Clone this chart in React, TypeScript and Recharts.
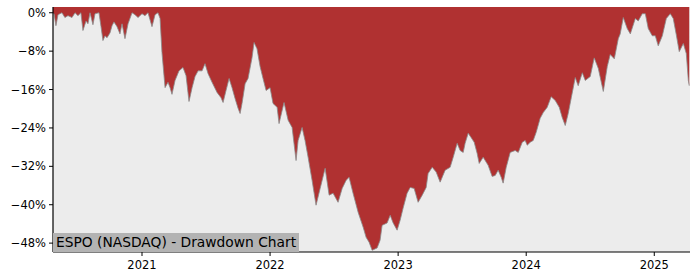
import { AreaChart, Area, XAxis, YAxis, CartesianGrid } from "recharts";

// decimal years
const years = [
  2020.305, 2020.313, 2020.328, 2020.344, 2020.375, 2020.398, 2020.422, 2020.453, 2020.477, 2020.5,
  2020.523, 2020.539, 2020.563, 2020.578, 2020.594, 2020.617, 2020.633, 2020.664, 2020.68, 2020.695,
  2020.711, 2020.727, 2020.75, 2020.766, 2020.781, 2020.805, 2020.828, 2020.844, 2020.867, 2020.891,
  2020.922, 2020.945, 2020.969, 2021.0, 2021.023, 2021.047, 2021.078, 2021.102, 2021.125, 2021.141,
  2021.156, 2021.18, 2021.203, 2021.219, 2021.234, 2021.258, 2021.289, 2021.32, 2021.344, 2021.367,
  2021.391, 2021.414, 2021.438, 2021.469, 2021.492, 2021.516, 2021.547, 2021.586, 2021.617, 2021.633,
  2021.656, 2021.68, 2021.703, 2021.727, 2021.75, 2021.766, 2021.781, 2021.805, 2021.828, 2021.859,
  2021.875, 2021.898, 2021.922, 2021.945, 2021.969, 2022.0, 2022.023, 2022.055, 2022.07, 2022.109,
  2022.141, 2022.172, 2022.203, 2022.219, 2022.25, 2022.273, 2022.297, 2022.328, 2022.359, 2022.391,
  2022.43, 2022.461, 2022.492, 2022.531, 2022.563, 2022.594, 2022.617, 2022.648, 2022.688, 2022.727,
  2022.75, 2022.773, 2022.797, 2022.836, 2022.859, 2022.875, 2022.914, 2022.938, 2022.961, 2022.992,
  2023.016, 2023.039, 2023.07, 2023.094, 2023.125, 2023.156, 2023.188, 2023.219, 2023.234, 2023.266,
  2023.297, 2023.328, 2023.367, 2023.406, 2023.43, 2023.461, 2023.484, 2023.508, 2023.523, 2023.547,
  2023.57, 2023.594, 2023.617, 2023.633, 2023.664, 2023.703, 2023.734, 2023.758, 2023.781, 2023.805,
  2023.82, 2023.844, 2023.875, 2023.914, 2023.938, 2023.969, 2023.992, 2024.008, 2024.031, 2024.055,
  2024.078, 2024.109, 2024.133, 2024.164, 2024.195, 2024.227, 2024.258, 2024.281, 2024.305, 2024.328,
  2024.352, 2024.383, 2024.406, 2024.438, 2024.461, 2024.5, 2024.531, 2024.563, 2024.602, 2024.633,
  2024.656, 2024.688, 2024.719, 2024.734, 2024.758, 2024.789, 2024.813, 2024.852, 2024.875, 2024.906,
  2024.93, 2024.953, 2024.984, 2025.008, 2025.031, 2025.063, 2025.094, 2025.125, 2025.148, 2025.172,
  2025.195, 2025.227, 2025.25, 2025.266, 2025.273,
];

// drawdown in percent
const drawdown = [
  -0.1, -0.2, -2.7, -0.4, 0, -1.0, -0.6, -1.0, 0, -0.6,
  0, -3.7, -1.7, -2.3, 0, -2.5, -0.2, 0, -2.9, -5.8,
  -4.8, -5.2, -4.2, -2.7, -1.9, -2.9, -4.4, -2.3, -5.4, -2.3,
  0, -0.4, -1.0, -0.2, -0.6, 0, -2.9, -0.4, 0, -1.2,
  -8.3, -15.6, -14.5, -15.6, -17.0, -14.1, -12.1, -11.4, -13.1, -18.5,
  -15.6, -13.3, -12.1, -12.1, -10.6, -12.7, -14.5, -16.6, -17.7, -18.7,
  -16.2, -13.7, -15.6, -17.9, -19.9, -21.0, -18.9, -14.8, -13.7, -9.4,
  -6.2, -7.5, -11.2, -13.7, -16.2, -15.6, -18.9, -19.7, -23.1, -18.7,
  -22.4, -23.9, -30.8, -26.6, -23.9, -26.6, -30.1, -34.9, -40.1, -36.6,
  -32.4, -38.0, -37.6, -39.5, -36.6, -34.9, -34.3, -37.6, -41.6, -44.7,
  -46.8, -47.8, -49.5, -49.0, -47.4, -44.3, -43.8, -42.2, -43.8, -45.3,
  -43.2, -40.7, -37.6, -36.4, -36.6, -39.5, -38.0, -36.4, -33.5, -32.2,
  -33.2, -35.3, -32.8, -32.2, -30.1, -27.2, -28.7, -29.1, -27.2, -25.1,
  -26.0, -27.0, -29.3, -31.4, -30.1, -31.8, -34.1, -33.9, -32.8, -34.3,
  -35.5, -32.2, -29.1, -28.7, -29.1, -27.0, -26.6, -27.6, -27.0, -26.6,
  -24.9, -22.0, -20.8, -19.7, -17.5, -18.3, -19.7, -21.8, -23.5, -21.0,
  -17.7, -13.5, -15.2, -12.5, -14.1, -13.3, -9.4, -11.6, -16.4, -11.2,
  -8.7, -9.6, -5.4, -4.4, -1.0, -3.3, -4.4, -1.2, -1.7, -0.2,
  -0.2, -3.3, -4.8, -4.8, -6.9, -4.8, -1.2, -0.2, -1.2, -4.6,
  -8.1, -6.4, -8.5, -14.1, -15.2,
];

const yearTicks = [2021, 2022, 2023, 2024, 2025];
const pctTicks = [0, -8, -16, -24, -32, -40, -48];

const data = years.map((t, i) => ({ t, dd: drawdown[i] }));

const X_MIN = 2020.305;
const X_MAX = 2025.279;
const Y_MIN = -49.85;
const Y_MAX = 1.2;

const tickStyle = { fontFamily: "DejaVu Sans", fontSize: 11.5, fill: "#000" };

const fmtPct = (v: number) => (v < 0 ? "\u2212" + Math.abs(v) : String(v)) + "%";

export default function App() {
  return (
    <div style={{ position: "fixed", left: 0, top: 0, width: 700, height: 280, background: "#fff" }}>
      <AreaChart
        width={700}
        height={280}
        data={data}
        margin={{ top: 7, right: 10, bottom: 0, left: 0 }}
      >
        <CartesianGrid horizontal={false} vertical={false} fill="#ececec" />
        <Area
          type="linear"
          dataKey="dd"
          baseValue={Y_MAX}
          fill="#b03131"
          fillOpacity={1}
          stroke="#8a8a8a"
          strokeWidth={0.8}
          dot={false}
          activeDot={false}
          isAnimationActive={false}
        />
        <XAxis
          dataKey="t"
          type="number"
          domain={[X_MIN, X_MAX]}
          allowDataOverflow
          ticks={yearTicks}
          tickFormatter={(v) => String(v)}
          tick={tickStyle}
          tickSize={4}
          tickMargin={5}
          height={28}
          axisLine={{ stroke: "#000", strokeWidth: 1.2 }}
          tickLine={{ stroke: "#000" }}
        />
        <YAxis
          type="number"
          domain={[Y_MIN, Y_MAX]}
          allowDataOverflow
          ticks={pctTicks}
          tickFormatter={fmtPct}
          tick={tickStyle}
          tickSize={4}
          tickMargin={3}
          width={53}
          axisLine={{ stroke: "#000", strokeWidth: 1.2 }}
          tickLine={{ stroke: "#000" }}
        />
        <XAxis
          xAxisId="top"
          orientation="top"
          dataKey="t"
          type="number"
          domain={[X_MIN, X_MAX]}
          allowDataOverflow
          height={0}
          tick={false}
          tickLine={false}
          axisLine={{ stroke: "#000", strokeWidth: 1.2 }}
        />
        <YAxis
          yAxisId="right"
          orientation="right"
          type="number"
          domain={[Y_MIN, Y_MAX]}
          allowDataOverflow
          width={0}
          tick={false}
          tickLine={false}
          axisLine={{ stroke: "#000", strokeWidth: 1.2 }}
        />
      </AreaChart>
      <div
        style={{
          position: "absolute",
          left: 53,
          top: 233,
          height: 19,
          lineHeight: "19px",
          padding: "0 3px 0 3px",
          background: "#b3b3b3",
          fontFamily: "DejaVu Sans",
          fontSize: 13.8,
          color: "#000",
          whiteSpace: "nowrap",
        }}
      >
        ESPO (NASDAQ) - Drawdown Chart
      </div>
    </div>
  );
}
